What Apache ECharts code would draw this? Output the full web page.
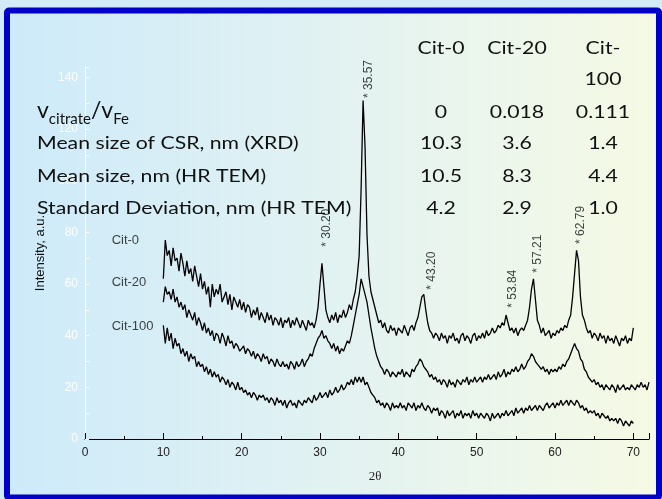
<!DOCTYPE html>
<html>
<head>
<meta charset="utf-8">
<script src="https://cdn.jsdelivr.net/npm/echarts/dist/echarts.min.js"></script>
<style>html,body{margin:0;padding:0;background:#d3ebf7;}#chart{width:662px;height:499px;}</style>
</head>
<body>
<div id="chart"></div>
<script>
// ---- data ----
const twoThetaStart = 10;
const twoThetaStep = 0.25;
const cit0 = [62,77,71,73,67,74,69,70,65,72,68,63,69,64,66,61,67,63,59,64,58,
  61,56,59,51,60,55,58,56,60,53,55,57,52,56,50,55,53,51,54,50,
  53,49,52,51,47,50,48,51,46,49,47,45,49,46,48,44,47,46,44,47,
  43,46,45,47,43,46,44,47,45,43,46,44,42,46,44,45,43,46,51,
  60,68,59,50,47,45,48,46,49,45,48,47,50,47,49,52,50,54,57,63,71,
  97,131,113,79,63,57,54,51,48,45,46,43,45,42,41,44,42,43,40,43,
  42,41,44,42,40,43,44,42,45,47,51,55,56,50,45,42,41,39,41,40,
  38,41,39,40,37,40,39,41,38,39,37,40,41,38,40,39,37,40,41,38,
  40,39,41,39,42,40,41,43,41,42,44,43,45,44,48,45,42,43,41,43,
  40,42,43,42,44,46,51,58,62,54,46,44,41,43,40,41,42,39,41,40,
  42,41,43,42,44,43,46,48,55,64,73,69,55,48,46,43,41,42,39,41,
  40,38,41,39,40,37,40,38,39,37,40,38,36,39,38,40,37,39,38,43];
const cit20 = [53,59,56,57,54,58,53,55,51,53,50,52,47,50,48,46,49,44,47,45,42,
  45,41,43,40,42,38,41,40,37,41,39,36,40,37,38,35,37,36,34,35,
  36,33,35,34,32,34,31,33,32,30,33,31,32,29,31,30,28,31,29,28,
  30,28,29,27,30,29,27,30,28,29,31,28,30,31,33,32,35,37,39,40,
  42,39,40,38,37,35,37,34,36,33,35,34,36,38,37,40,44,48,52,56,
  62,59,56,53,48,43,39,35,32,30,28,27,25,27,26,24,26,25,24,26,
  25,27,24,26,25,24,27,26,28,29,31,30,28,27,26,24,25,23,24,22,
  23,21,23,22,20,23,21,22,20,23,22,21,23,22,24,21,23,22,24,22,
  23,24,22,24,23,25,23,24,25,23,26,24,25,27,24,26,25,27,26,28,
  26,27,29,27,28,30,31,33,32,30,29,28,27,28,26,27,25,27,26,27,
  26,28,27,29,28,30,31,33,35,37,35,34,31,30,27,26,24,24,22,23,
  21,22,20,21,19,21,20,19,21,20,18,21,19,20,21,19,20,19,21,20,19,21,20,22,20,21,19,22];
const cit100 = [44,37,43,38,41,35,39,36,37,33,35,32,34,30,33,31,32,28,30,28,29,
  26,28,25,27,24,26,24,25,22,24,23,21,23,20,22,21,19,22,19,20,
  18,19,17,18,16,18,17,15,17,16,17,15,16,14,16,15,13,16,14,15,
  13,15,12,14,15,13,14,12,15,14,13,15,14,16,15,14,17,15,16,18,
  16,17,18,16,19,17,18,20,18,19,21,19,20,22,21,23,21,24,22,24,
  22,24,21,22,20,18,17,16,14,15,13,14,12,14,13,11,14,12,13,12,
  14,12,13,11,14,13,12,14,11,13,12,14,12,11,13,12,10,12,11,12,
  9,11,10,8,11,9,10,11,8,10,9,11,8,10,9,10,8,11,9,10,
  8,10,9,8,10,9,7,10,8,9,10,8,10,9,11,9,10,11,9,12,
  10,11,12,10,12,11,13,11,12,13,11,13,12,11,13,14,12,13,14,12,
  14,13,15,13,14,15,13,15,14,13,15,14,12,13,11,12,10,11,10,11,
  9,10,8,10,9,8,9,7,8,7,8,6,8,7,5,7,6,5,7,6];
const seriesNames = ['Cit-0', 'Cit-20', 'Cit-100'];
const seriesNameX = [3.4, 3.4, 3.4];
const seriesNameY = [77, 60.5, 43.5];
const peakNames = ['* 30.20', '* 35.57', '* 43.20', '* 53.84', '* 57.21', '* 62.79'];
const peakLabelX = [30.8, 36.2, 44.2, 54.6, 57.75, 63.3];
const peakLabelY = [74.4, 132, 57.8, 50.8, 64.4, 75.5];
const xTicks = [0, 10, 20, 30, 40, 50, 60, 70];
const yTicks = [0, 20, 40, 60, 80, 100, 120, 140];
const tableColumns = ['Cit-0', 'Cit-20', 'Cit-\n100'];
const ratioLabelParts = [['v', 'main'], ['citrate', 'sub'], ['/v', 'main'], ['Fe', 'sub']];
const rowLabels = ['Mean size of CSR, nm (XRD)', 'Mean size, nm (HR TEM)', 'Standard Deviation, nm (HR TEM)'];
const ratioValues = ['0', '0.018', '0.111'];
const tableValues = [['10.3', '3.6', '1.4'], ['10.5', '8.3', '4.4'], ['4.2', '2.9', '1.0']];

// ---- build ----
function toPairs(vals) { return vals.map((v, i) => [twoThetaStart + i * twoThetaStep, v]); }
const TFONT = 'Lato';
const TSIZE = 18;
const SX = 1.18;
const colX = [441, 517, 603];
const rowY = [143, 176, 208];
const graphics = [
  { type: 'rect', z: -10, shape: { x: 7, y: 10.5, width: 652, height: 487, r: 2 },
    style: { fill: new echarts.graphic.LinearGradient(0, 0, 1, 0, [
      { offset: 0, color: '#cdeafa' }, { offset: 0.5, color: '#e2f2f2' }, { offset: 1, color: '#f6fae4' }]),
      stroke: '#0000c8', lineWidth: 6 } },
  { type: 'text', z: 100, x: 375, y: 477, style: { text: '2\u03b8', font: '13px "Liberation Serif"', fill: '#222', align: 'center', verticalAlign: 'middle' } }
];
function tText(str, x, y, align, vAlign) {
  return { type: 'text', z: 100, x: x, y: y, scaleX: SX,
    style: { text: str, font: TSIZE + 'px ' + TFONT, fill: '#111', align: align, verticalAlign: vAlign } };
}
tableColumns.forEach((c, i) => {
  const g = tText(c, colX[i], 33, 'center', 'top');
  g.style.lineHeight = 31;
  graphics.push(g);
});
// v_citrate / v_Fe label with subscripts
(function () {
  const ctx = document.createElement('canvas').getContext('2d');
  const fonts = { main: '23px ' + TFONT, sub: '15px ' + TFONT };
  const bottoms = { main: 122, sub: 127 };
  let x = 37;
  ratioLabelParts.forEach(([t, kind]) => {
    ctx.font = fonts[kind];
    graphics.push({ type: 'text', z: 100, x: x, y: bottoms[kind],
      style: { text: t, font: fonts[kind], fill: '#111', align: 'left', verticalAlign: 'bottom' } });
    x += ctx.measureText(t).width;
  });
})();
ratioValues.forEach((v, i) => graphics.push(tText(v, colX[i], 112, 'center', 'middle')));
rowLabels.forEach((r, j) => {
  graphics.push(tText(r, 37, rowY[j], 'left', 'middle'));
  tableValues[j].forEach((v, i) => graphics.push(tText(v, colX[i], rowY[j], 'center', 'middle')));
});

const chart = echarts.init(document.getElementById('chart'));
const lineSeries = [cit0, cit20, cit100].map((vals, k) => ({
  name: seriesNames[k], type: 'line', data: toPairs(vals), showSymbol: false, symbol: 'none',
  lineStyle: { color: '#000', width: 1.3 }, itemStyle: { color: '#000' }, silent: true, z: 3, animation: false
}));
chart.setOption({
  backgroundColor: '#d3ebf7',
  animation: false,
  graphic: { elements: graphics },
  grid: { left: 85, right: 13, top: 67, bottom: 60 },
  xAxis: {
    type: 'value', min: 0, max: 72, interval: 10,
    axisLine: { lineStyle: { color: '#000', width: 1.2 } },
    axisTick: { inside: true, length: 6, lineStyle: { color: '#000' } },
    minorTick: { show: true, splitNumber: 2, length: 3, lineStyle: { color: '#000' } },
    splitLine: { show: false },
    axisLabel: { color: '#222', fontSize: 12, fontFamily: 'Liberation Sans', margin: 8,
      formatter: v => xTicks.includes(v) ? String(v) : '' }
  },
  yAxis: {
    type: 'value', min: 0, max: 144, interval: 20,
    name: 'Intensity, a.u.', nameLocation: 'middle', nameGap: 20,
    nameTextStyle: { color: '#111', fontSize: 13, fontFamily: 'Liberation Sans' },
    axisLine: { show: true, lineStyle: { color: '#fff', width: 1 } },
    axisTick: { show: true, inside: true, length: 4, lineStyle: { color: '#fff' } },
    minorTick: { show: true, splitNumber: 2, length: 4, lineStyle: { color: '#fff' } },
    splitLine: { show: false },
    axisLabel: { color: '#fff', fontSize: 12, fontFamily: 'Liberation Sans', margin: 7,
      formatter: v => yTicks.includes(v) ? String(v) : '' }
  },
  series: lineSeries.concat([
    { type: 'scatter', symbolSize: 0, silent: true, z: 5,
      data: seriesNames.map((n, i) => [seriesNameX[i], seriesNameY[i], n]),
      label: { show: true, position: 'inside', formatter: p => p.value[2], align: 'left', verticalAlign: 'middle',
        color: '#111', fontSize: 13, fontFamily: 'Liberation Sans' } },
    { type: 'scatter', symbolSize: 0, silent: true, z: 5,
      data: peakNames.map((n, i) => [peakLabelX[i], peakLabelY[i], n]),
      label: { show: true, position: 'inside', formatter: p => p.value[2], rotate: 90, align: 'left', verticalAlign: 'middle',
        color: '#111', fontSize: 12, fontFamily: 'Liberation Sans' } }
  ])
});
</script>
</body>
</html>
